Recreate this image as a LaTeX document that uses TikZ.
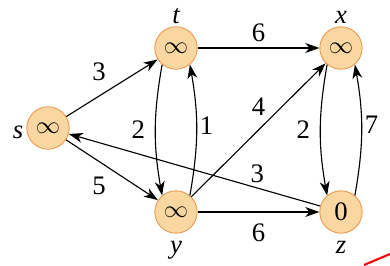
\documentclass[tikz,border=0pt]{standalone}
\usepackage{fontspec}
\setmainfont{Liberation Serif}
\usetikzlibrary{positioning,arrows.meta}
\definecolor{vfill}{HTML}{FAD7A0}
\definecolor{vline}{HTML}{E8954A}
\begin{document}
\begin{tikzpicture}[
    vertex/.style={circle, draw=vline, fill=vfill, line width=0.6pt, minimum size=1.06cm, inner sep=0pt, font=\fontsize{19}{21}\selectfont},
    vname/.style={inner sep=1pt, font=\fontsize{19}{21}\selectfont\itshape},
    wt/.style={inner sep=2pt, font=\fontsize{19}{21}\selectfont},
    edge/.style={-{Stealth[length=10pt,width=7pt,inset=3pt]}, line width=0.8pt}]
\useasboundingbox (0,0) rectangle (9.75,6.625);
\node[vertex] (s) at (1.2,3.425) {$\infty$};
\node[vertex] (t) at (4.4,5.425) {$\infty$};
\node[vertex] (x) at (8.525,5.425) {$\infty$};
\node[vertex] (y) at (4.4,1.325) {$\infty$};
\node[vertex] (z) at (8.525,1.325) {0};
% vertex names
\node[vname, left=1pt of s, yshift=-3pt] (sname) {s};
\node[vname, above=1pt of t] (tname) {t};
\node[vname, above=0.5pt of x] (xname) {x};
\node[vname, below=4pt of y] (yname) {y};
\node[vname, below=4pt of z] (zname) {z};
% edges
\draw[edge] (s) -- node[wt, pos=0.45, above left=4pt, xshift=4pt, yshift=2pt] {3} (t);
\draw[edge] (s) -- node[wt, pos=0.45, below left=4pt, xshift=4pt, yshift=-2pt] {5} (y);
\draw[edge] (t) -- node[wt, above=2pt] {6} (x);
\draw[edge] (y) -- node[wt, below=6pt] {6} (z);
\draw[edge] (t.-130) to[bend right=10] node[wt, left=5pt] {2} (y.130);
\draw[edge] (y.50) to[bend right=10] node[wt, right, yshift=3pt] {1} (t.-50);
\draw[edge] (y) -- node[wt, pos=0.5, above=8pt] {4} (x);
\draw[edge] (x.-130) to[bend right=10] node[wt, left=5pt] {2} (z.130);
\draw[edge] (z.50) to[bend right=10] node[wt, right, yshift=4pt] {7} (x.-50);
\draw[edge] (z) -- node[wt, pos=0.25, above=1pt] {3} (s);
\draw[red, line width=1.5pt] (9.1,0) -- (9.75,0.275);
\end{tikzpicture}
\end{document}
